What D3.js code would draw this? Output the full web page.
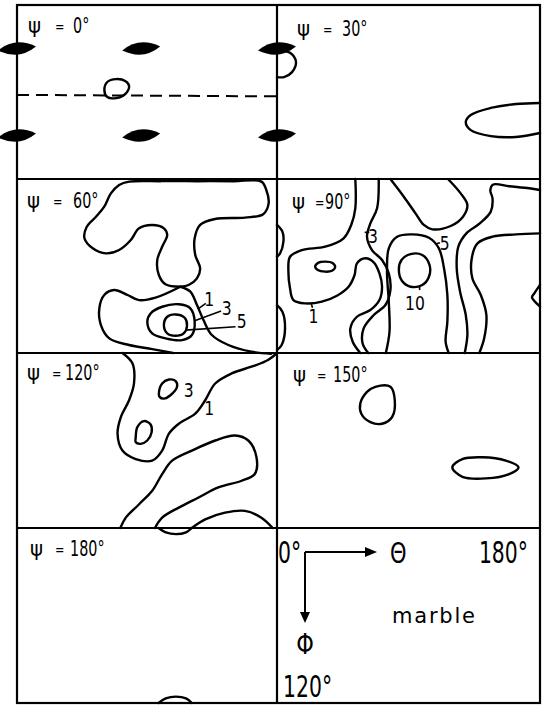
<!DOCTYPE html>
<html><head><meta charset="utf-8">
<script src="https://cdn.jsdelivr.net/npm/d3@7"></script>
<style>html,body{margin:0;padding:0;background:#fff}svg{display:block}</style>
</head><body>
<script>
// ---------- DATA (theta 0..180 across, phi 0..120 down) ----------
const PSI = [0, 30, 60, 90, 120, 150, 180];

// psi = 0
const peaks_psi0 = [[0,30],[86,30],[180,30],[0,90],[86,90],[180,90]];
const dashed_psi0 = [[0,62],[180,63]];
const contours_psi0 = [
  {closed:true, pts:[[60.5,58.7],[62.5,53.1],[68.7,51.1],[74.9,52.4],[77.6,55.9],[74.9,61.4],[68.7,64.2],[62.5,63.5]]}
];

// psi = 30
const contours_psi30 = [
  {closed:false, pts:[[0,31],[8.9,33],[13,39.3],[10.3,46.3],[4.8,49.7],[0,49.7]]},
  {closed:false, pts:[[180,67.6],[163.5,68.3],[146.3,71],[132.6,75.9],[129.2,80.7],[132.6,86.3],[146.3,90.4],[163.5,91],[180,88.3]]}
];

// psi = 60
const contours_psi60 = [
  {closed:false, pts:[[113.1,74.3],[102.8,72.6],[98.2,66.2],[97.1,55.9],[100.5,46.7],[104.0,38.6],[101.7,34.0],[93.6,31.7],[84.5,34.0],[78.8,42.1],[70.7,49.0],[61.6,51.3],[52.4,47.8],[46.7,40.9],[48.3,32.9],[54.7,26.0],[60.4,19.1],[65.0,9.9],[70.7,4.1],[77.6,1.8],[100,1.5],[125,1.5],[150,1.5],[169.2,1.8],[172.6,7.6],[174.2,16.8],[170.4,24.3],[157.8,26.6],[137.1,27.6],[126.8,31.7],[123.0,40.9],[123.4,52.4],[126.8,61.6],[124.6,68.5],[118.8,73.1],[113.1,74.3]]},
  {closed:false, pts:[[113.1,74.3],[95.9,81.8],[84.5,83.5],[76.5,80.0],[67.3,76.6],[60.4,80.0],[57.0,89.2],[58.1,100.7],[63.9,109.9],[77.6,114.5],[93.6,117.3],[108,120]]},
  {closed:false, pts:[[113.1,74.3],[120.0,77.7],[124.6,86.9],[129.1,97.3],[134.9,107.6],[146.3,114.5],[162.3,119.1],[176,120.5]]},
  {closed:true, pts:[[90.2,98.4],[92.5,92.7],[100.5,88.1],[112.0,86.4],[120.0,89.2],[123.0,98.4],[121.1,107.6],[114.3,111.1],[102.8,109.9],[93.6,106.5]]},
  {closed:true, pts:[[101.7,100.7],[104.0,95.0],[109.7,93.4],[116.1,95.7],[117.7,101.2],[115.4,106.5],[109.7,108.1],[104.0,106.5]]}
];
const labels_psi60 = [{text:"1",theta:133,phi:87.6},{text:"3",theta:145.2,phi:93.8},{text:"5",theta:155.5,phi:103}];
const leaders_psi60 = [[[125.2,89.7],[130.7,85.8]],[[123.0,97.7],[141.3,91.0]],[[116.5,104.2],[151.3,101.9]]];

// psi = 90
const contours_psi90 = [
  {closed:false, pts:[[53.6,0],[53.6,20.2],[50.8,31.7],[45.6,40.9],[33.0,46.7],[17.0,49.0],[8.9,53.6],[7.8,63.9],[8.9,75.4],[11.2,83.5],[19.2,85.8],[30.7,84.6],[41.0,80.5],[49.0,74.3],[53.1,66.2],[54.7,58.2],[60.5,54.7],[66.2,57.5],[70.1,65.1],[71.9,74.3],[70.1,83.5],[63.9,90.4],[54.7,95.0],[50.2,103.0],[51.8,112.2],[57,120]]},
  {closed:false, pts:[[69.6,0],[68.5,20.2],[63.9,30.6],[61.6,39.8],[65.0,49.0],[71.9,55.9],[76.5,65.1],[77.6,76.6],[74.2,86.9],[66.2,93.8],[59.3,103.0],[58.6,113.4],[62.5,120]]},
  {closed:true, pts:[[26.1,60.5],[28.4,57.7],[33.0,57.0],[38.0,57.9],[39.8,60.7],[37.6,63.3],[33.0,63.9],[27.9,62.8]]},
  {closed:false, pts:[[77.6,0],[86.8,12.2],[94.8,23.7],[100.5,31.7],[106.3,34.7],[118.9,32.4],[127.3,26.0],[130.3,17.9],[125.7,9.9],[117,0]]},
  {closed:false, pts:[[180,7.6],[172.7,6.4],[158.9,5.0],[148,3.8],[146,8],[147.5,13.3],[146.3,22.5],[138.8,30.6],[129.6,37.5],[124.1,46.7],[123.0,61.6],[125.3,77.7],[129.2,93.8],[130.3,107.6],[128.5,120]]},
  {closed:false, pts:[[180,37.5],[163.5,38.2],[147.5,39.8],[137.2,44.4],[133.3,54.7],[133.7,68.5],[139.5,80.0],[143.3,93.8],[141.8,109.9],[138.5,120]]},
  {closed:false, pts:[[180,73],[176,79],[174.5,81.5],[176,84],[180,88]]},
  {closed:false, pts:[[74.5,120],[77.0,105.3],[76.5,84.6],[75.3,63.9],[76.5,47.8],[82.2,39.8],[92.5,38.2],[104.0,40.5],[110.8,47.8],[114.3,61.6],[116.6,80.0],[116.6,98.4],[115.4,112.2],[117.5,120]]},
  {closed:true, pts:[[83.4,62.8],[85.2,55.9],[91.4,51.8],[99.4,52.4],[104.4,59.3],[104.0,67.4],[99.4,73.1],[91.4,74.3],[85.6,70.4]]},
  {closed:false, pts:[[0,31.7],[3.7,36.3],[4.4,43.2],[2.1,51.3],[0,53.6]]},
  {closed:false, pts:[[0,87],[3.7,91.5],[5.5,103.0],[3.2,114.5],[0,118]]}
];
const labels_psi90 = [{text:"1",theta:25.0,phi:99.6},{text:"3",theta:65.7,phi:44.4},{text:"5",theta:114.7,phi:49.0},{text:"10",theta:94.4,phi:90.4}];
const leaders_psi90 = [[[23.4,85.8],[24.3,88.8]],[[60.0,36.8],[63.2,36.8]],[[108.5,44.8],[111.5,43.9]],[[97.6,74.3],[97.6,76.6]]];

// psi = 120
const contours_psi120 = [
  {closed:false, pts:[[73,0],[79.9,7.1],[81.0,20.9],[77.6,32.4],[71.9,43.9],[69.6,55.4],[73.0,66.9],[82.2,72.7],[93.6,73.8],[100.5,66.9],[105.1,55.4],[112.0,48.5],[123.4,41.6],[130.3,32.4],[137.2,20.9],[148.6,14.0],[162.3,9.4],[173.8,4.8],[180,0]]},
  {closed:true, pts:[[98.2,27.8],[100.5,20.9],[105.1,18.2],[109.7,19.1],[110.8,23.2],[106.2,29.0],[101.7,31.3],[98.7,30.1]]},
  {closed:true, pts:[[82.2,57.7],[83.3,50.8],[87.9,46.7],[92.5,49.0],[93.2,54.3],[90.2,60.0],[85.6,62.3],[82.2,61.2]]},
  {closed:false, pts:[[71.5,120],[75.3,112.9],[84.5,103.7],[93.6,94.5],[100.5,83.0],[107.4,73.8],[121.1,66.9],[137.2,60.0],[150.9,56.6],[160.1,60.0],[165.8,71.5],[164.6,83.0],[155.5,87.6],[139.4,92.2],[125.7,99.1],[112.0,106.0],[100.5,112.9],[95.5,120]]},
  {closed:false, pts:[[121,120],[130.3,114.1],[144.0,109.5],[157.8,108.3],[169.2,112.9],[177,120]]}
];
const labels_psi120 = [{text:"3",theta:118.8,phi:30.1},{text:"1",theta:133.0,phi:42.8}];

// psi = 150
const contours_psi150 = [
  {closed:true, pts:[[67.3,23.2],[77.6,23.2],[80.6,32.4],[78.8,43.9],[71.9,48.5],[63.9,47.4],[57.7,41.6],[57.0,34.7],[61.6,26.7]]},
  {closed:true, pts:[[120.0,78.4],[126.9,72.7],[140.6,71.5],[156.6,73.8],[165.3,78.4],[158.9,83.0],[142.9,86.0],[126.9,84.9]]}
];

// psi = 180
const contours_psi180 = [
  {closed:false, pts:[[98,0],[103,3],[110,4.2],[117,3],[121,0]]},
  {closed:false, pts:[[98,120],[103,116.8],[110,115.6],[117,116.8],[121,120]]}
];

const panelData = {
  0:  {contours:contours_psi0, peaks:peaks_psi0, dashed:dashed_psi0},
  30: {contours:contours_psi30},
  60: {contours:contours_psi60, labels:labels_psi60, leaders:leaders_psi60},
  90: {contours:contours_psi90, labels:labels_psi90, leaders:leaders_psi90},
  120:{contours:contours_psi120, labels:labels_psi120},
  150:{contours:contours_psi150},
  180:{contours:contours_psi180}
};

// legend texts
const axisLabels = {origin:"0°", thetaSym:"Θ", thetaMax:"180°", phiSym:"Φ", phiMax:"120°", material:"marble"};

// ---------- LAYOUT ----------
const W = 555, H = 714;
const colX = [[17,277],[277,540]];
const rowY = [[5,179],[179,353],[353,528],[528,703]];
const FONT = "'DejaVu Sans',sans-serif";
// title layout per panel: [dx, baselineDy, eqDx, numDx]
const titleLayout = {0:[11,28,27,45],30:[20,31,26,45],60:[10,29,26,46],90:[15,30,23,33],120:[10,27,25,38],150:[16,29,24,40],180:[13,28,25,40]};

const svg = d3.select("body").append("svg").attr("width",W).attr("height",H)
  .style("font-family",FONT);

function txt(g, x, y, s, size, sx, anchor, extra){
  const t = g.append("text").attr("transform",`translate(${x},${y}) scale(${sx},1)`)
    .attr("font-size",size).attr("text-anchor",anchor||"start").text(s);
  if(extra) extra(t);
  return t;
}

// frame
const frame = svg.append("g").attr("stroke","#000").attr("stroke-width",2.2).attr("fill","none");
frame.append("rect").attr("x",colX[0][0]).attr("y",rowY[0][0])
  .attr("width",colX[1][1]-colX[0][0]).attr("height",rowY[3][1]-rowY[0][0]);
frame.append("line").attr("x1",colX[0][1]).attr("x2",colX[0][1]).attr("y1",rowY[0][0]).attr("y2",rowY[3][1]);
rowY.slice(1).forEach(r=>frame.append("line").attr("x1",colX[0][0]).attr("x2",colX[1][1]).attr("y1",r[0]).attr("y2",r[0]));

const lensPath = "M-19,2 Q-2,-12 19,-2 Q2,12 -19,2 Z";

PSI.forEach((p,i)=>{
  const c = i%2, r = Math.floor(i/2);
  const x = d3.scaleLinear().domain([0,180]).range(colX[c]);
  const y = d3.scaleLinear().domain([0,120]).range(rowY[r]);
  const d = panelData[p];
  const g = svg.append("g");
  const lineOpen = d3.line().x(v=>x(v[0])).y(v=>y(v[1])).curve(d3.curveCatmullRom.alpha(0.5));
  const lineClosed = d3.line().x(v=>x(v[0])).y(v=>y(v[1])).curve(d3.curveCatmullRomClosed.alpha(0.5));
  const straight = d3.line().x(v=>x(v[0])).y(v=>y(v[1]));

  g.selectAll("path.contour").data(d.contours).join("path")
    .attr("class","contour")
    .attr("d",k=>k.closed?lineClosed(k.pts):lineOpen(k.pts))
    .attr("fill","none").attr("stroke","#000").attr("stroke-width",2.4)
    .attr("stroke-linejoin","round").attr("stroke-linecap","round");

  if(d.dashed){
    g.append("path").attr("d",straight(d.dashed)).attr("fill","none")
      .attr("stroke","#000").attr("stroke-width",2).attr("stroke-dasharray","12,7");
  }
  if(d.leaders){
    g.selectAll("path.leader").data(d.leaders).join("path").attr("class","leader")
      .attr("d",straight).attr("fill","none").attr("stroke","#000").attr("stroke-width",1.6);
  }
  if(d.labels){
    d.labels.forEach(k=>txt(g, x(k.theta), y(k.phi), k.text, 20, 0.78, "middle"));
  }
  if(d.peaks){
    g.selectAll("path.peak").data(d.peaks).join("path").attr("class","peak")
      .attr("transform",k=>`translate(${x(k[0])},${y(k[1])})`)
      .attr("d",lensPath).attr("fill","#000");
  }
  // title
  const tl = titleLayout[p];
  const tx = colX[c][0]+tl[0], ty = rowY[r][0]+tl[1];
  txt(g, tx, ty, "ψ", 22, 0.9, "start");
  txt(g, tx+tl[2], ty-1, "=", 15, 0.75, "start");
  txt(g, tx+tl[3], ty, p+"°", 20.5, 0.7, "start");
});

// legend panel
const lg = svg.append("g");
const L = colX[1][0], T = rowY[3][0];
txt(lg, L+1, T+35, axisLabels.origin, 30, 0.68, "start");
txt(lg, L+113, T+35, axisLabels.thetaSym, 28, 0.75, "start");
txt(lg, colX[1][1]-12, T+35, axisLabels.thetaMax, 30, 0.68, "end");
txt(lg, L+28, T+126, axisLabels.phiSym, 28, 0.8, "middle");
txt(lg, L+6, T+169, axisLabels.phiMax, 30, 0.68, "start");
txt(lg, L+115, T+95, axisLabels.material, 21, 1, "start", t=>t.attr("letter-spacing",1.8));
const ax = lg.append("g").attr("stroke","#000").attr("stroke-width",2).attr("fill","none");
ax.append("path").attr("d",`M${L+28},${T+24} H${L+92}`);
ax.append("path").attr("d",`M${L+28},${T+24} V${T+86}`);
lg.append("path").attr("d",`M${L+88},${T+19} L${L+100},${T+24} L${L+88},${T+29} Z`).attr("fill","#000");
lg.append("path").attr("d",`M${L+23},${T+84} L${L+28},${T+95} L${L+33},${T+84} Z`).attr("fill","#000");
</script>
</body></html>
